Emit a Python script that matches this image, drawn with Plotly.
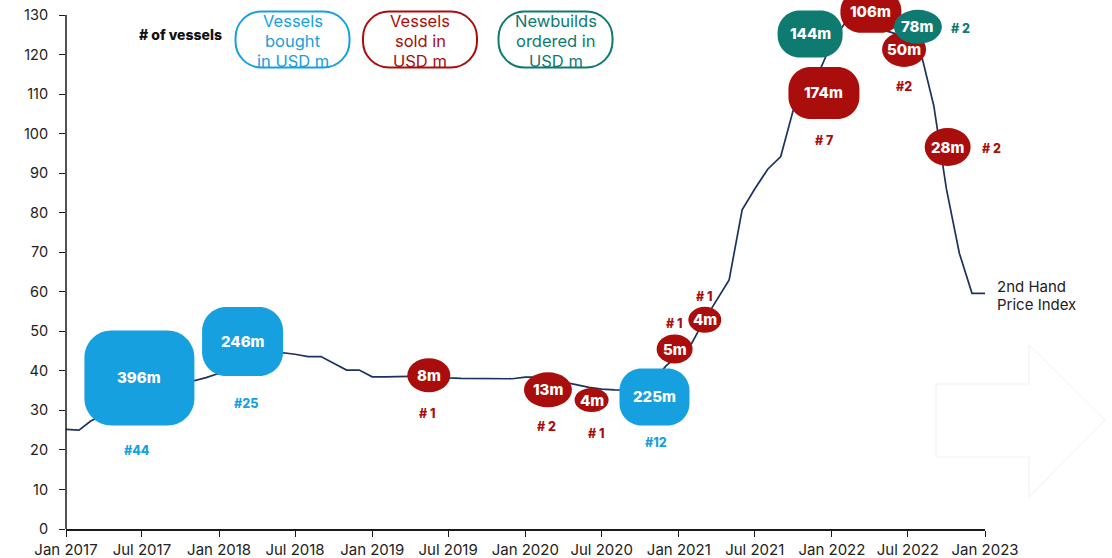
import pandas as pd
import plotly.graph_objects as go

# ---------------------------------------------------------------- data
# 2nd-hand price index, monthly from Jan 2017 to Jan 2023
index_months = pd.date_range("2017-01-01", "2023-01-01", freq="MS")
index_values = [
    25.2, 25.0, 27.3, 29.0, 30.5, 32.0, 33.2, 34.4, 35.5, 36.6, 37.5, 38.3,
    39.4, 40.8, 42.5, 44.0, 45.0, 44.6, 44.2, 43.6, 43.6, 41.9, 40.2, 40.2,
    38.5, 38.5, 38.5, 38.6, 38.7, 38.4, 38.2, 38.1, 38.1, 38.0, 38.0, 38.0,
    38.4, 38.4, 37.8, 37.2, 36.5, 35.8, 35.4, 35.2, 35.1, 35.5, 37.5, 41.2,
    44.0, 47.0, 52.5, 58.0, 63.0, 80.7, 86.0, 91.0, 94.2, 106.0, 110.5, 115.5,
    123.0, 128.0, 129.0, 128.0, 126.3, 125.3, 123.0, 120.5, 107.0, 86.0, 69.7, 59.6,
    59.6,
]

# transactions: kind, date, index level at the time, value in USD m, vessel count label
deal_kind = ["bought", "bought", "sold", "sold", "sold", "bought", "sold", "sold",
             "newbuild", "sold", "sold", "sold", "newbuild", "sold"]
deal_dates = ["2017-06-25", "2018-02-26", "2019-05-16", "2020-02-24", "2020-06-07",
              "2020-11-04", "2020-12-22", "2021-03-04", "2021-11-10", "2021-12-13",
              "2022-04-04", "2022-06-22", "2022-07-25", "2022-10-04"]
deal_levels = [38.2, 47.4, 38.9, 35.2, 32.6, 33.4, 45.5, 52.9, 125.2, 110.3,
               130.8, 121.3, 127.0, 96.6]
deal_values = [396, 246, 8, 13, 4, 225, 5, 4, 144, 174, 106, 50, 78, 28]
deal_counts = ["#44", "#25", "# 1", "# 2", "# 1", "#12", "# 1", "# 1", "", "# 7",
               "", "#2", "# 2", "# 2"]

x_tick_dates = pd.date_range("2017-01-01", "2023-01-01", freq="6MS")
x_tick_text = ["Jan 2017", "Jul 2017", "Jan 2018", "Jul 2018", "Jan 2019", "Jul 2019",
               "Jan 2020", "Jul 2020", "Jan 2021", "Jul 2021", "Jan 2022", "Jul 2022",
               "Jan 2023"]
y_ticks = list(range(0, 131, 10))

legend_kinds = ["bought", "sold", "newbuild"]
legend_lines = [["Vessels", "bought", "in USD m"],
                ["Vessels", "sold in", "USD m"],
                ["Newbuilds", "ordered in", "USD m"]]
series_label = ["2nd Hand", "Price Index"]

# ---------------------------------------------------------------- styles
COLORS = {"bought": "#17a0e0", "sold": "#a90d0c", "newbuild": "#0e7a70"}
LINE_COLOR = "#1c325f"
FONT = "Inter"

# bubble box (width, height, corner radius or None for ellipse) in pixels
bubble_box = [(110, 95, 27), (81, 69, 24), (43, 34, None), (48, 35, None),
              (34, 24, None), (70, 57, 22), (36, 29, None), (33, 26, None),
              (65, 47, 22), (71, 52, 22), (61, 42, 20), (44, 35, None),
              (48, 34, None), (46, 38, None)]
# count label offsets (dx right, dy down) in pixels from the bubble centre
count_offset = [(-2, 73), (3, 62), (-2, 38), (-1, 37), (4, 33), (2, 46), (-1, -26),
                (-1, -23), (0, 0), (0, 48), (0, 0), (0, 37), (43, 2), (44, 1)]

PLOT_H = 558 - 29
Y_TOP = 130 + 15 / (514 / 130)  # leave 15 px of headroom above the 130 tick


def rounded_rect(w, h, r):
    k = 0.5523 * r
    x0, x1, y0, y1 = -w / 2, w / 2, -h / 2, h / 2
    return (
        f"M{x0 + r},{y0} L{x1 - r},{y0} "
        f"C{x1 - r + k},{y0} {x1},{y0 + r - k} {x1},{y0 + r} "
        f"L{x1},{y1 - r} "
        f"C{x1},{y1 - r + k} {x1 - r + k},{y1} {x1 - r},{y1} "
        f"L{x0 + r},{y1} "
        f"C{x0 + r - k},{y1} {x0},{y1 - r + k} {x0},{y1 - r} "
        f"L{x0},{y0 + r} "
        f"C{x0},{y0 + r - k} {x0 + r - k},{y0} {x0 + r},{y0} Z"
    )


def px_to_paper(px, py):
    return (px - 66) / 919, 1 - py / PLOT_H


fig = go.Figure()

fig.add_trace(go.Scatter(
    x=index_months, y=index_values, mode="lines",
    line=dict(color=LINE_COLOR, width=1.7),
    hoverinfo="skip", showlegend=False,
))

shapes = []
annotations = []

# y axis line, stopping at the top tick
shapes.append(dict(type="line", xref="paper", yref="y", x0=0, x1=0, y0=0, y1=130,
                   line=dict(color="#1a1a1a", width=1.5), layer="above"))

# transaction bubbles
for kind, d, lvl, val, cnt, (w, h, r), (dx, dy) in zip(
        deal_kind, deal_dates, deal_levels, deal_values, deal_counts,
        bubble_box, count_offset):
    col = COLORS[kind]
    if r is None:
        shapes.append(dict(type="circle", xref="x", yref="y",
                           xsizemode="pixel", ysizemode="pixel",
                           xanchor=d, yanchor=lvl,
                           x0=-w / 2, x1=w / 2, y0=-h / 2, y1=h / 2,
                           fillcolor=col, line=dict(width=0), layer="above"))
    else:
        shapes.append(dict(type="path", xref="x", yref="y",
                           xsizemode="pixel", ysizemode="pixel",
                           xanchor=d, yanchor=lvl, path=rounded_rect(w, h, r),
                           fillcolor=col, line=dict(width=0), layer="above"))
    annotations.append(dict(x=d, y=lvl, xref="x", yref="y", text=f"{val}m",
                            showarrow=False, xanchor="center", yanchor="middle",
                            font=dict(family=FONT, size=15, color="white", weight=800)))
    if cnt:
        annotations.append(dict(x=d, y=lvl, xref="x", yref="y", text=cnt,
                                showarrow=False, xshift=dx, yshift=-dy,
                                xanchor="center", yanchor="middle",
                                font=dict(family=FONT, size=12.5, color=col, weight=800)))

# series label at the end of the line
for i, txt in enumerate(series_label):
    annotations.append(dict(x=index_months[-1], y=index_values[-1], xref="x", yref="y",
                            text=txt, showarrow=False,
                            xanchor="left", yanchor="middle", xshift=10,
                            yshift=7 - 18 * i,
                            font=dict(family=FONT, size=15, color="#222222")))

# legend header and boxes
hx, hy = px_to_paper(180, 35)
annotations.append(dict(x=hx, y=hy, xref="paper", yref="paper", text="# of vessels",
                        showarrow=False, xanchor="center", yanchor="middle",
                        font=dict(family=FONT, size=14, color="#111111", weight=800)))

for kind, lines, cx in zip(legend_kinds, legend_lines, [292.5, 420, 555.5]):
    ax, ay = px_to_paper(cx, 39.5)
    shapes.append(dict(type="path", xref="paper", yref="paper",
                       xsizemode="pixel", ysizemode="pixel",
                       xanchor=ax, yanchor=ay, path=rounded_rect(114, 56, 26),
                       fillcolor="rgba(0,0,0,0)",
                       line=dict(color=COLORS[kind], width=2), layer="above"))
    for i, txt in enumerate(lines):
        tx, ty = px_to_paper(cx, 21 + 20 * i)
        annotations.append(dict(x=tx, y=ty, xref="paper", yref="paper", text=txt,
                                showarrow=False, xanchor="center", yanchor="middle",
                                font=dict(family=FONT, size=16.5, color=COLORS[kind])))

# faint outline arrow in the lower right corner
arx, ary = px_to_paper(1020, 421)
shapes.append(dict(type="path", xref="paper", yref="paper",
                   xsizemode="pixel", ysizemode="pixel", xanchor=arx, yanchor=ary,
                   path="M-84,37 L9,37 L9,76 L85,1 L9,-76 L9,-36 L-84,-36 Z",
                   fillcolor="rgba(255,255,255,0)",
                   line=dict(color="rgba(200,204,214,0.3)", width=1)))

fig.update_layout(
    width=1112, height=558, autosize=False,
    margin=dict(l=66, r=127, t=0, b=29, pad=0),
    paper_bgcolor="white", plot_bgcolor="white",
    showlegend=False,
    shapes=shapes, annotations=annotations,
    font=dict(family=FONT, color="#222222"),
    xaxis=dict(
        type="date", range=["2017-01-01", "2023-01-01"],
        tickvals=x_tick_dates, ticktext=x_tick_text,
        showgrid=False, zeroline=False,
        showline=True, linecolor="#1a1a1a", linewidth=1.5,
        ticks="outside", ticklen=6, tickwidth=1.3, tickcolor="#1a1a1a",
        tickfont=dict(family=FONT, size=15, color="#222222"),
    ),
    yaxis=dict(
        range=[0, Y_TOP], tickvals=y_ticks,
        showgrid=False, zeroline=False, showline=False,
        ticks="outside", ticklen=6, tickwidth=1.3, tickcolor="#1a1a1a",
        ticklabelstandoff=8,
        tickfont=dict(family=FONT, size=14.5, color="#222222"),
    ),
)

fig.write_html("out.html")
